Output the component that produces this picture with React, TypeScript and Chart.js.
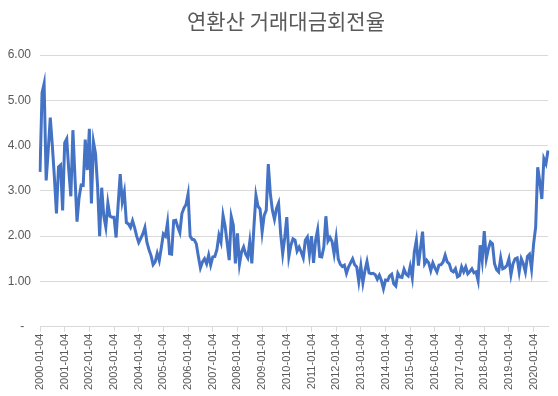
import React, { useEffect, useRef } from "react";
import { Chart, registerables } from "chart.js";

Chart.register(...registerables);

const TITLE = "연환산 거래대금회전율";

// tick labels (one per January)
const tickLabels = [
  "2000-01-04", "2001-01-04", "2002-01-04", "2003-01-04", "2004-01-04",
  "2005-01-04", "2006-01-04", "2007-01-04", "2008-01-04", "2009-01-04",
  "2010-01-04", "2011-01-04", "2012-01-04", "2013-01-04", "2014-01-04",
  "2015-01-04", "2016-01-04", "2017-01-04", "2018-01-04", "2019-01-04",
  "2020-01-04",
];

// monthly annualized turnover values
const v2000 = [3.42, 5.17, 5.37, 3.23, 3.9, 4.62, 4.0, 3.3, 2.5, 3.53, 3.57, 2.57];
const v2001 = [4.06, 4.15, 3.45, 2.88, 4.34, 3.3, 2.32, 2.85, 3.13, 3.12, 4.13, 3.46];
const v2002 = [4.37, 2.72, 4.08, 3.82, 3.1, 2.0, 3.07, 2.45, 2.2, 2.73, 2.44, 2.42];
const v2003 = [2.42, 1.97, 2.7, 3.37, 2.76, 2.98, 2.3, 2.27, 2.19, 2.34, 2.19, 2.0];
const v2004 = [1.86, 1.95, 2.05, 2.19, 1.86, 1.7, 1.57, 1.37, 1.43, 1.62, 1.46, 1.75];
const v2005 = [2.05, 2.0, 2.3, 1.61, 1.6, 2.34, 2.35, 2.2, 2.08, 2.5, 2.62, 2.7];
const v2006 = [2.93, 2.0, 1.93, 1.92, 1.83, 1.55, 1.3, 1.43, 1.5, 1.39, 1.58, 1.36];
const v2007 = [1.54, 1.55, 1.7, 2.02, 1.87, 2.46, 2.22, 1.85, 1.47, 2.43, 2.24, 1.4];
const v2008 = [2.06, 1.38, 1.65, 1.76, 1.6, 1.52, 1.88, 1.4, 2.2, 2.9, 2.66, 2.6];
const v2009 = [2.09, 2.46, 2.57, 3.59, 2.94, 2.57, 2.37, 2.61, 2.73, 2.06, 1.61, 1.97];
const v2010 = [2.42, 1.55, 1.8, 1.94, 1.91, 1.67, 1.76, 1.65, 1.52, 1.91, 1.98, 1.6];
const v2011 = [2.0, 1.41, 1.91, 2.14, 1.55, 1.54, 1.76, 2.44, 1.89, 1.97, 1.88, 1.61];
const v2012 = [1.96, 1.5, 1.38, 1.33, 1.36, 1.18, 1.32, 1.41, 1.5, 1.37, 1.32, 1.0];
const v2013 = [1.34, 0.97, 1.24, 1.44, 1.19, 1.17, 1.18, 1.15, 1.05, 1.14, 1.02, 0.84];
const v2014 = [1.03, 1.02, 1.12, 1.16, 0.95, 0.9, 1.18, 1.1, 1.09, 1.27, 1.16, 1.12];
const v2015 = [1.33, 1.08, 1.65, 1.91, 1.35, 1.73, 2.1, 1.39, 1.47, 1.41, 1.24, 1.41];
const v2016 = [1.3, 1.21, 1.36, 1.37, 1.43, 1.58, 1.43, 1.39, 1.24, 1.21, 1.28, 1.1];
const v2017 = [1.13, 1.32, 1.21, 1.32, 1.17, 1.22, 1.28, 1.19, 1.21, 1.02, 1.8, 1.46];
const v2018 = [2.11, 1.5, 1.72, 1.87, 1.83, 1.39, 1.26, 1.21, 1.52, 1.28, 1.3, 1.35];
const v2019 = [1.5, 1.15, 1.39, 1.5, 1.52, 1.21, 1.5, 1.39, 1.21, 1.55, 1.6, 1.28];
const v2020 = [1.83, 2.2, 3.52, 3.2, 2.82, 3.71, 3.6, 3.89];

const series = [
  ...v2000, ...v2001, ...v2002, ...v2003, ...v2004, ...v2005, ...v2006,
  ...v2007, ...v2008, ...v2009, ...v2010, ...v2011, ...v2012, ...v2013,
  ...v2014, ...v2015, ...v2016, ...v2017, ...v2018, ...v2019, ...v2020,
];

const categories = series.map((_, i) => {
  const y = 2000 + Math.floor(i / 12);
  const m = (i % 12) + 1;
  return `${y}-${String(m).padStart(2, "0")}`;
});

const titlePlugin = {
  id: "excelTitle",
  afterDraw(chart: any) {
    const ctx = chart.ctx;
    ctx.save();
    ctx.fillStyle = "#595959";
    ctx.font = "normal 21px 'Noto Sans CJK KR', sans-serif";
    ctx.textAlign = "center";
    ctx.textBaseline = "middle";
    ctx.fillText(TITLE, 286, 21);
    ctx.restore();
  },
};

export default function App() {
  const ref = useRef<HTMLCanvasElement | null>(null);

  useEffect(() => {
    if (!ref.current) return;
    const gray = "#595959";
    const grid = "#d9d9d9";
    const chart = new Chart(ref.current, {
      type: "line",
      data: {
        labels: categories,
        datasets: [
          {
            data: series,
            borderColor: "#4472C4",
            borderWidth: 3,
            pointRadius: 0,
            tension: 0,
            fill: false,
          },
        ],
      },
      plugins: [titlePlugin],
      options: {
        animation: false,
        responsive: false,
        maintainAspectRatio: false,
        layout: { padding: { left: 0, right: 10, top: 55, bottom: 4 } },
        plugins: {
          legend: { display: false },
          tooltip: { enabled: false },
          title: { display: false },
        },
        scales: {
          x: {
            type: "category",
            offset: false,
            grid: {
              display: true,
              drawOnChartArea: false,
              drawTicks: true,
              tickLength: 5,
              color: grid,
            },
            border: { display: true, color: grid, width: 1 },
            ticks: {
              autoSkip: false,
              maxRotation: 90,
              minRotation: 90,
              padding: 2,
              color: gray,
              font: { family: "'Liberation Sans', Arial, sans-serif", size: 11 },
              callback: (_v: any, index: number) =>
                index % 12 === 0 ? tickLabels[index / 12] : null,
            },
          },
          y: {
            min: 0,
            max: 6,
            afterFit: (scale: any) => {
              scale.width = 40;
            },
            grid: { color: grid, drawTicks: false, lineWidth: 1 },
            border: { display: false },
            ticks: {
              stepSize: 1,
              padding: 9,
              color: gray,
              font: { family: "'Liberation Sans', Arial, sans-serif", size: 12 },
              callback: (v: any) => (Number(v) === 0 ? "-  " : Number(v).toFixed(2)),
            },
          },
        },
      },
    });
    return () => chart.destroy();
  }, []);

  return (
    <div style={{ position: "fixed", left: 0, top: 0, width: 558, height: 396, background: "#fff" }}>
      <canvas ref={ref} width={558} height={396} style={{ width: 558, height: 396 }} />
    </div>
  );
}
